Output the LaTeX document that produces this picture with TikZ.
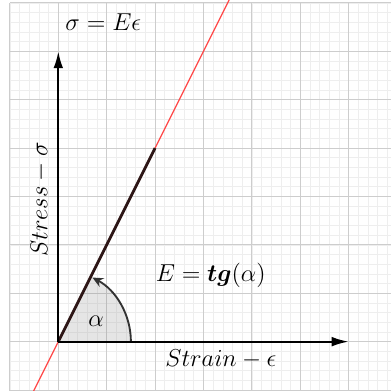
\documentclass[tikz,border=0pt]{standalone}
\usepackage{amsmath,bm}
\usetikzlibrary{arrows.meta}
\definecolor{minorc}{RGB}{238,238,238}
\definecolor{majorc}{RGB}{205,205,205}
\definecolor{redl}{RGB}{255,70,70}
\definecolor{darkl}{RGB}{45,22,22}
\tikzset{
  minorgrid/.style={draw=minorc, line width=0.4pt},
  majorgrid/.style={draw=majorc, line width=0.5pt},
  axisline/.style={line width=1.2pt, -{Latex[length=3.5mm,width=2mm]}},
  lbl/.style={inner sep=1pt, font=\fontsize{15.2pt}{18pt}\selectfont},
}
\begin{document}
\begin{tikzpicture}
\useasboundingbox (-1.205,-1.02) rectangle (6.855,7.06);
\fill[white] (-1.205,-1.02) rectangle (6.855,7.06);
\draw[minorgrid, step=0.2] (-1,-1.2) grid (7,7);
\draw[majorgrid, step=1] (-1,-1.2) grid (7,7);
\coordinate (O) at (0,0);
\coordinate (X) at (6,0);
\coordinate (Y) at (0,6);
\coordinate (P) at (2,4);
\coordinate (R1) at (-0.51,-1.02);
\coordinate (R2) at (3.53,7.06);
\coordinate (A0) at (1.5,0);
% angle sector
\fill[gray, fill opacity=0.2] (O) -- (A0) arc[start angle=0, end angle=63.43, radius=1.5] -- cycle;
\draw[line width=1.1pt, draw=black!80, -{Stealth[length=2.2mm,width=2mm]}] (A0) arc[start angle=0, end angle=62.0, radius=1.5];
% red line
\draw[redl, line width=0.7pt] (R1) -- (R2);
\draw[darkl, line width=1.6pt] (O) -- (P);
% axes
\draw[axisline] (O) -- (X);
\draw[axisline] (O) -- (Y);
% labels
\node[lbl] (law) at (0.93,6.6) {$\sigma = E\epsilon$};
\node[lbl] (slope) at (3.15,1.37) {$E = \bm{tg}(\alpha)$};
\node[lbl] (strain) at (3.36,-0.36) {$Strain-\epsilon$};
\node[lbl, rotate=90] (stress) at (-0.38,2.94) {$Stress-\sigma$};
\node[lbl] (alpha) at (0.78,0.42) {$\alpha$};
\end{tikzpicture}
\end{document}
